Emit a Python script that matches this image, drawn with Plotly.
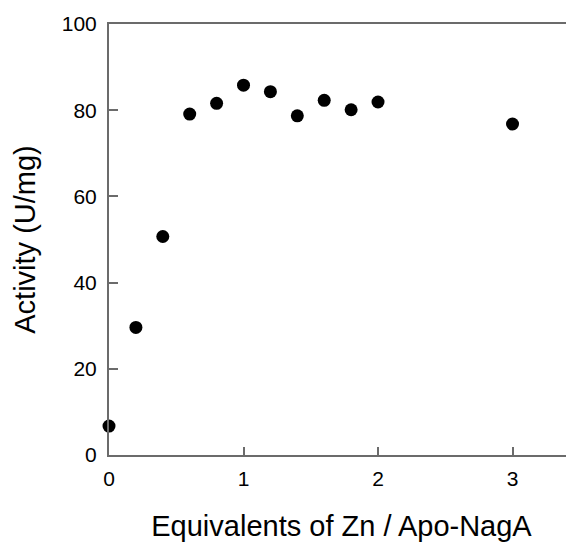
import plotly.graph_objects as go

equiv_zn = [0, 0.2, 0.4, 0.6, 0.8, 1.0, 1.2, 1.4, 1.6, 1.8, 2.0, 3.0]
activity = [6.7, 29.6, 50.7, 79.1, 81.6, 85.8, 84.3, 78.7, 82.3, 80.1, 81.9, 76.8]

AXIS_COLOR = '#6b6b6b'
FONT = 'Liberation Sans, Arial, Helvetica, sans-serif'

fig = go.Figure()
fig.add_scatter(x=equiv_zn, y=activity, mode='markers',
                marker={'color': 'black', 'size': 13}, cliponaxis=False, showlegend=False)

# the page body has an 8px margin, so the figure is sized to fill the rest of the window
fig.update_xaxes(range=[0, 3.457], tickvals=[0, 1, 2, 3], ticks='inside', ticklen=8, tickwidth=1.5,
                 tickcolor=AXIS_COLOR, showline=True, linecolor=AXIS_COLOR, linewidth=2, mirror=True,
                 showgrid=False, zeroline=False, tickfont={'size': 21}, ticklabelstandoff=4,
                 automargin=False,
                 title={'text': 'Equivalents of Zn / Apo-NagA', 'font': {'size': 29}, 'standoff': 26})
fig.update_yaxes(range=[0, 100], tickvals=[0, 20, 40, 60, 80, 100], ticks='inside', ticklen=9, tickwidth=1.5,
                 tickcolor=AXIS_COLOR, showline=True, linecolor=AXIS_COLOR, linewidth=2,
                 showgrid=False, zeroline=False, tickfont={'size': 21}, ticklabelstandoff=6,
                 automargin=False,
                 title={'text': 'Activity (U/mg)', 'font': {'size': 29}, 'standoff': 18})
fig.update_layout(width=566, height=536, margin={'t': 16, 'l': 101, 'r': 0, 'b': 89},
                  plot_bgcolor='white', paper_bgcolor='white',
                  font={'family': FONT, 'color': 'black'})

fig.write_html('out.html')
